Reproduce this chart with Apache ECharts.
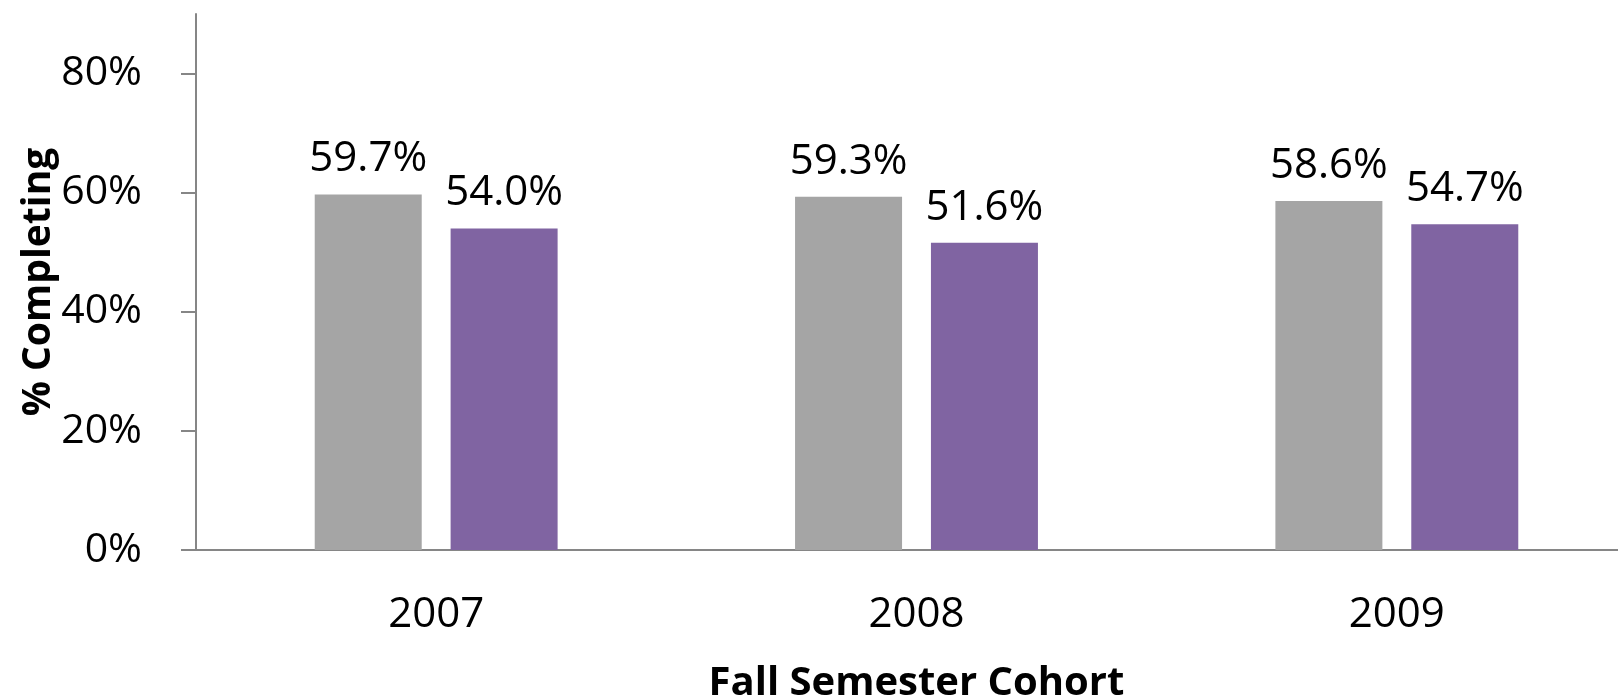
<!DOCTYPE html>
<html><head><meta charset="utf-8">
<script src="https://cdn.jsdelivr.net/npm/echarts@6/dist/echarts.min.js"></script>
<style>html,body{margin:0;padding:0;background:#fff}#c{width:1618px;height:695px}</style>
</head><body><div id="c"></div>
<script>
const categories = ['2007', '2008', '2009'];
const seriesA = [0.597, 0.593, 0.586];
const seriesB = [0.540, 0.516, 0.547];
const yTicks = [0, 0.2, 0.4, 0.6, 0.8];

const FONT = '"Open Sans", sans-serif';
const chart = echarts.init(document.getElementById('c'), null, {renderer: 'canvas'});
const pct1 = v => (v * 100).toFixed(1) + '%';
chart.setOption({
  animation: false,
  grid: {left: 196, top: 14, width: 1441, height: 536, containLabel: false, outerBoundsMode: 'none'},
  xAxis: {
    type: 'category', data: categories,
    axisLine: {lineStyle: {color: '#868686', width: 2}},
    axisTick: {show: false},
    axisLabel: {fontFamily: FONT, fontSize: 42, color: '#000', margin: 44},
    name: 'Fall Semester Cohort', nameLocation: 'middle', nameGap: 114,
    nameTextStyle: {fontFamily: FONT, fontSize: 40, fontWeight: 'bold', color: '#000'}
  },
  yAxis: {
    type: 'value', min: 0, max: 0.9,
    axisLine: {show: true, lineStyle: {color: '#868686', width: 2}},
    axisTick: {show: true, inside: false, length: 15, customValues: yTicks, lineStyle: {color: '#868686', width: 2}},
    axisLabel: {customValues: yTicks, fontFamily: FONT, fontSize: 41, color: '#000', margin: 54,
      formatter: v => Math.round(v * 100) + '%'},
    splitLine: {show: false},
    name: '% Completing', nameLocation: 'middle', nameGap: 138, nameMoveOverlap: false,
    nameTextStyle: {fontFamily: FONT, fontSize: 39, fontWeight: 'bold', color: '#000'}
  },
  series: [
    {type: 'bar', data: seriesA, barWidth: 107, barGap: '27%',
     itemStyle: {color: '#A5A5A5'},
     label: {show: true, position: 'top', distance: 14, fontFamily: FONT, fontSize: 42, color: '#000',
       formatter: p => pct1(p.value)}},
    {type: 'bar', data: seriesB, barWidth: 107,
     itemStyle: {color: '#8064A2'},
     label: {show: true, position: 'top', distance: 14, fontFamily: FONT, fontSize: 42, color: '#000',
       formatter: p => pct1(p.value)}}
  ]
});
</script></body></html>
